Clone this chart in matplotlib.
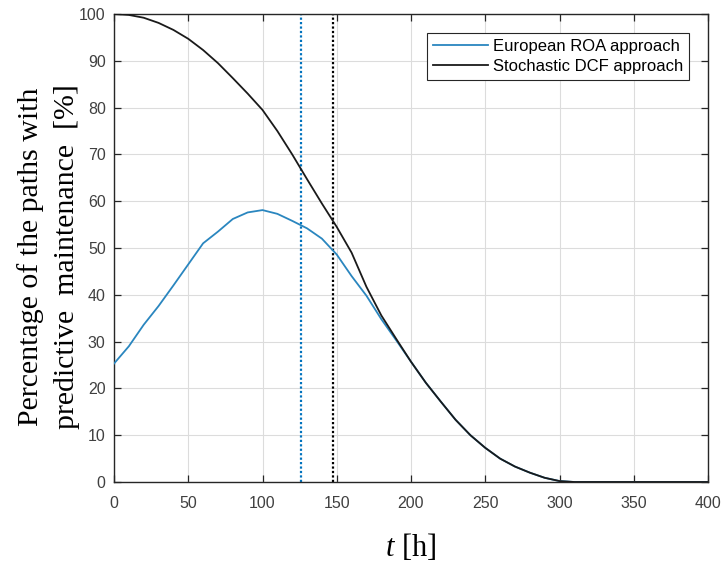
import matplotlib
matplotlib.use("Agg")
import matplotlib.pyplot as plt
import numpy as np

# ---- data ----
t_hours = [0, 10, 20, 30, 40, 50, 60, 70, 80, 90, 100, 110, 120, 130, 140, 150,
           160, 170, 180, 190, 200, 210, 220, 230, 240, 250, 260, 270, 280, 290,
           300, 310, 320, 330, 340, 350, 360, 370, 380, 390, 400]
dcf_pct = [100.0, 99.8, 99.2, 98.1, 96.6, 94.7, 92.3, 89.5, 86.3, 83.0, 79.5,
           75.0, 70.0, 64.7, 59.5, 54.5, 49.0, 41.7, 35.6, 30.6, 25.7, 21.2,
           17.2, 13.3, 10.0, 7.3, 5.0, 3.3, 2.0, 0.9, 0.2, 0.0, 0.0, 0.0, 0.0,
           0.0, 0.0, 0.0, 0.0, 0.0, 0.0]
roa_pct = [25.3, 29.0, 33.6, 37.6, 42.0, 46.5, 51.0, 53.5, 56.2, 57.6, 58.1,
           57.3, 55.8, 54.2, 52.0, 48.6, 44.0, 39.8, 34.8, 30.3, 25.7, 21.2,
           17.2, 13.3, 10.0, 7.3, 5.0, 3.3, 2.0, 0.9, 0.2, 0.0, 0.0, 0.0, 0.0,
           0.0, 0.0, 0.0, 0.0, 0.0, 0.0]
roa_threshold_t = 126.0
dcf_threshold_t = 147.3
series_labels = ["European ROA approach", "Stochastic DCF approach"]
x_ticks = [0, 50, 100, 150, 200, 250, 300, 350, 400]
y_ticks = [0, 10, 20, 30, 40, 50, 60, 70, 80, 90, 100]

# ---- style ----
plt.rcParams['font.family'] = ['Liberation Sans', 'DejaVu Sans']
plt.rcParams['mathtext.fontset'] = 'custom'
plt.rcParams['mathtext.rm'] = 'Liberation Serif'
plt.rcParams['mathtext.it'] = 'Liberation Serif:italic'

W, H = 724, 568
fig = plt.figure(figsize=(W / 100, H / 100), dpi=100)
left, right, top, bottom = 114, 708, 14, 482
ax = fig.add_axes([left / W, 1 - bottom / H, (right - left) / W, (bottom - top) / H])

blue = '#2a86bf'
ax.plot(t_hours, roa_pct, color=blue, lw=1.3, label=series_labels[0], zorder=3)
ax.plot(t_hours, dcf_pct, color='#1a1a1a', lw=1.3, label=series_labels[1], zorder=4)
ax.axvline(roa_threshold_t, color='#0072BD', lw=1.6, ls=(0, (1, 1)), zorder=2)
ax.axvline(dcf_threshold_t, color='black', lw=1.6, ls=(0, (1, 1)), zorder=2)

ax.set_xlim(0, 400)
ax.set_ylim(0, 100)
ax.set_xticks(x_ticks)
ax.set_yticks(y_ticks)
ax.grid(True, color='#dcdcdc', lw=0.8)
ax.set_axisbelow(True)
ax.tick_params(direction='in', length=5, width=0.9, top=True, right=True,
               colors='#262626', labelcolor='#404040', labelsize=11.5)
ax.tick_params(axis='x', pad=10)
ax.tick_params(axis='y', pad=6)
for s in ax.spines.values():
    s.set_color('#262626')
    s.set_linewidth(1.0)

leg = ax.legend(loc='upper right', bbox_to_anchor=(0.968, 0.959), borderaxespad=0,
                fontsize=12, fancybox=False, frameon=True, edgecolor='#262626',
                framealpha=1, labelspacing=0.3, borderpad=0.35,
                handlelength=3.3, handletextpad=0.3)
leg.get_frame().set_linewidth(0.8)

fig.text(49 / W, 1 - 257 / H,
         "Percentage of the paths with\npredictive  maintenance  [%]",
         rotation=90, ha='center', va='center', multialignment='center',
         family='Liberation Serif', fontsize=21.5, linespacing=1.5)
fig.text(411 / W, 1 - 548 / H, r"$\it{t}$ [h]", ha='center', va='center',
         family='Liberation Serif', fontsize=22)

fig.savefig('out.png', dpi=100)
